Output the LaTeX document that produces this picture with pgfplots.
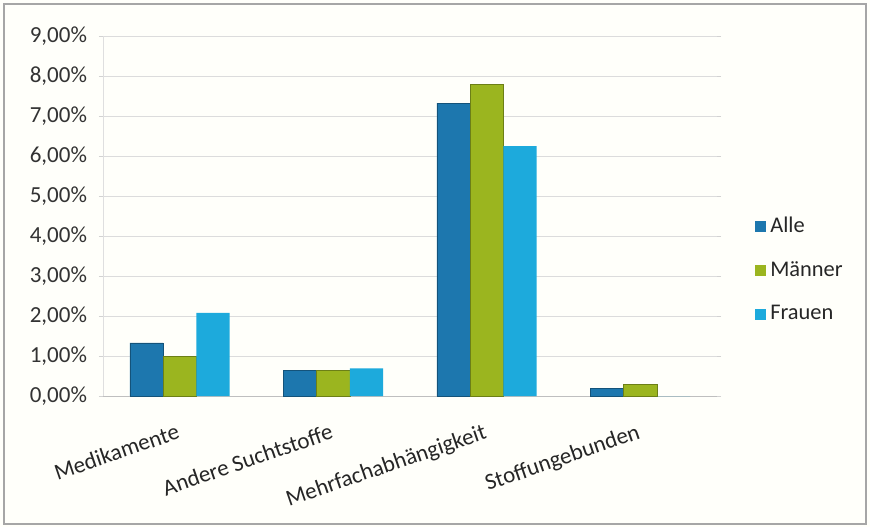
\documentclass[border=0pt]{standalone}
\usepackage{pgfplots}
\pgfplotsset{compat=1.18}
\usepackage{fontspec}
\setmainfont{Carlito}
\definecolor{alle}{HTML}{1D77AE}
\definecolor{maenner}{HTML}{9BB51F}
\definecolor{frauen}{HTML}{1DAADC}
\definecolor{gridc}{HTML}{DCDCDC}
\begin{document}
\begin{tikzpicture}
\useasboundingbox (-51.5pt,-65.5pt) rectangle (383.5pt,198pt);
\fill[white!98!yellow] (-51.5pt,-65.5pt) rectangle (383.5pt,198pt);
\draw[gray!70, line width=0.8pt] (-49.5pt,-64pt) rectangle (381.5pt,196pt);
\begin{axis}[
  at={(0pt,0pt)}, anchor=south west,
  scale only axis, width=307pt, height=180pt,
  ybar=0pt, bar width=16.6pt,
  xmin=-0.5, xmax=3.5, ymin=0, ymax=9,
  xtick={0,1,2,3},
  xticklabels={Medikamente, Andere Suchtstoffe, Mehrfachabhängigkeit, Stoffungebunden},
  xtick style={draw=none},
  minor xtick={-0.5,0.5,1.5,2.5,3.5},
  minor x tick style={gray!60, line width=0.4pt},
  minor tick length=3pt,
  ytick={0,1,...,9},
  yticklabel={\pgfmathprintnumber[fixed,fixed zerofill,precision=2,use comma]{\tick}\%},
  /pgf/number format/assume math mode=true,
  ymajorgrids, grid style={gridc, line width=0.5pt},
  axis line style={draw=none},
  ytick style={gray!35, line width=0.4pt},
  major tick length=2pt,
  tick align=outside,
  yticklabel style={font=\fontsize{11.5}{13}\selectfont, text=black!80, xshift=-2.5pt},
  xticklabel style={font=\fontsize{11.5}{13}\selectfont, text=black!85, rotate=19, anchor=north east, inner sep=0pt, xshift=-5.6pt, yshift=-10pt},
  legend style={draw=none, fill=none, at={(1.052,0.35)}, anchor=west,
    font=\fontsize{11.2}{13}\selectfont, row sep=9pt, text=black!85,
    legend cell align=left},
  legend image code/.code={\fill[#1,draw=none] (-2pt,-2.8pt) rectangle (3.5pt,2.8pt);},
  clip=false,
]
\draw[gray!50, line width=0.5pt] (axis cs:-0.5,0) -- (axis cs:3.5,0);
\draw[gray!25, line width=0.4pt] (axis cs:-0.5,0) -- (axis cs:-0.5,9);
\addplot[fill=alle, draw=alle!70!black, line width=0.3pt] coordinates {(0,1.33) (1,0.65) (2,7.32) (3,0.19)};
\addplot[fill=maenner, draw=maenner!70!black, line width=0.3pt] coordinates {(0,1.00) (1,0.65) (2,7.80) (3,0.30)};
\addplot[fill=frauen, draw=none] coordinates {(0,2.08) (1,0.69) (2,6.25) (3,0.00)};
\legend{Alle, Männer, Frauen}
\end{axis}
\end{tikzpicture}
\end{document}
